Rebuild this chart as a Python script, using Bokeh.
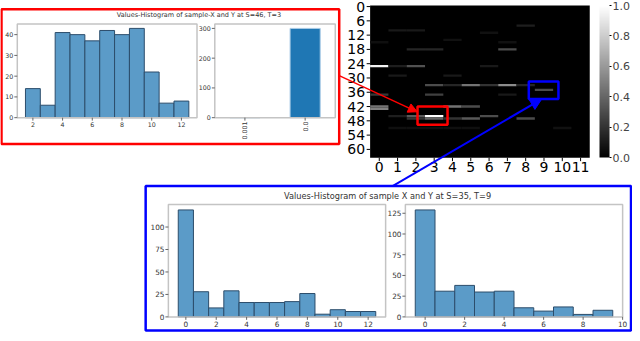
import math
from bokeh.plotting import figure
from bokeh.models import (Range1d, ColumnDataSource, Arrow, NormalHead, ColorBar,
                          LinearColorMapper, FixedTicker, PrintfTickFormatter)
from bokeh.palettes import Greys256
from bokeh.core.properties import value
from bokeh.embed import file_html
from bokeh.resources import INLINE

# ---------------- data ----------------
top_title = "Values-Histogram of sample-X and Y at S=46, T=3"
bottom_title = "Values-Histogram of sample X and Y at S=35, T=9"

h1_values = [2, 3, 4, 5, 6, 7, 8, 9, 10, 11, 12]
h1_counts = [14, 6, 41, 40, 37, 42, 40, 43, 22, 7, 8]
h1_xticks = [2, 4, 6, 8, 10, 12]
h1_yticks = [0, 10, 20, 30, 40]

h2_cats = ["0.001", "0.0"]
h2_counts = [0, 300]
h2_yticks = [0, 100, 200, 300]

h3_values = list(range(13))
h3_counts = [119, 28, 10, 29, 16, 16, 16, 17, 26, 3, 8, 6, 6]
h3_xticks = [0, 2, 4, 6, 8, 10, 12]
h3_yticks = [0, 25, 50, 75, 100]

h4_values = list(range(10))
h4_counts = [129, 31, 38, 30, 31, 11, 7, 12, 3, 8]
h4_xticks = [0, 2, 4, 6, 8, 10]
h4_yticks = [0, 25, 50, 75, 100, 125]

hm_xticks = list(range(12))
hm_yticks = list(range(0, 61, 6))
# non-zero cells of the heat map: column T, row S, value
hm_T = [0, 0, 0, 0, 0,
        1, 1, 1, 1, 1,
        2, 2, 2, 2, 2, 2,
        3, 3, 3, 3, 3, 3,
        4, 4, 4, 4, 4, 4,
        5, 5, 5, 5,
        6, 6, 6, 6,
        7, 7, 7, 7,
        8, 8, 8,
        9,
        10]
hm_S = [15, 25, 37, 42, 43,
        10, 25, 29, 46, 51,
        10, 18, 25, 46, 47, 51,
        18, 33, 37, 46, 47, 51,
        14, 29, 33, 42, 47, 51,
        33, 42, 47, 51,
        11, 25, 33, 46,
        15, 18, 33, 37,
        8, 33, 47,
        35,
        51]
hm_v = [0.06, 0.95, 0.22, 0.45, 0.5,
        0.1, 0.12, 0.1, 0.12, 0.06,
        0.1, 0.15, 0.32, 0.35, 0.2, 0.06,
        0.15, 0.3, 0.25, 1.0, 0.4, 0.06,
        0.07, 0.1, 0.15, 0.45, 0.2, 0.06,
        0.45, 0.3, 0.35, 0.06,
        0.07, 0.1, 0.2, 0.3,
        0.07, 0.3, 0.55, 0.1,
        0.12, 0.15, 0.3,
        0.3,
        0.07]
cb_ticks = [0.0, 0.2, 0.4, 0.6, 0.8, 1.0]

# ---------------- layout (reference pixel space) ----------------
W_REF, H_REF = 640, 341
FONT = value("DejaVu Sans")

p = figure(width=632, height=333, x_range=Range1d(0, W_REF), y_range=Range1d(H_REF, 0),
           output_backend="svg", toolbar_location=None, min_border=0,
           x_axis_location=None, y_axis_location=None)
p.xgrid.visible = False
p.ygrid.visible = False
p.outline_line_color = None
p.background_fill_color = "white"

xr, yr = {}, {}


def panel(name, xlim, ylim, box):
    l, t, r, b = box
    sx = (xlim[1] - xlim[0]) / (r - l)
    xr[name + "x"] = Range1d(xlim[0] - l * sx, xlim[0] + (W_REF - l) * sx)
    sy = (ylim[1] - ylim[0]) / (b - t)
    yr[name + "y"] = Range1d(ylim[0] - (H_REF - b) * sy, ylim[0] + b * sy)


boxes = {
    "h1": (17, 24, 199, 120),
    "h2": (217, 24, 339, 120),
    "hm": (374.3, 5, 596.7, 161),
    "h3": (170, 209, 390, 324),
    "h4": (410, 209, 630, 324),
}
panel("h1", (0.95, 13.05), (0, max(h1_counts) * 1.05), boxes["h1"])
panel("h2", (-0.5, 1.5), (0, max(h2_counts) * 1.05), boxes["h2"])
panel("hm", (-0.5, 11.5), (63.5, -0.5), boxes["hm"])
panel("h3", (-1.15, 13.15), (0, max(h3_counts) * 1.05), boxes["h3"])
panel("h4", (-1.0, 10.0), (0, max(h4_counts) * 1.05), boxes["h4"])
p.extra_x_ranges = xr
p.extra_y_ranges = yr

HIST_FILL = "#5b9bc8"
HIST_LINE = "#2c4d6b"
FRAME = "#c4c4c4"
TXT = "#333333"


def hist(name, vals, counts):
    src = ColumnDataSource(dict(l=[v - 0.5 for v in vals], r=[v + 0.5 for v in vals],
                                top=counts, bottom=[0] * len(vals)))
    p.quad(left="l", right="r", top="top", bottom="bottom", source=src,
           fill_color=HIST_FILL, line_color=HIST_LINE, line_width=1,
           x_range_name=name + "x", y_range_name=name + "y")


def axes(name, xticks, xlabels, yticks, ylabels, fs, rotate=False):
    l, t, r, b = boxes[name]
    p.quad(left=[l], right=[r], top=[t], bottom=[b], fill_color=None,
           line_color=FRAME, line_width=1.5)
    n = len(xticks)
    p.segment(x0=xticks, x1=xticks, y0=[b] * n, y1=[b + 3] * n,
              x_range_name=name + "x", line_color="#666666", line_width=1)
    if rotate:
        p.text(x=xticks, y=[b + 4] * n, text=xlabels, x_range_name=name + "x",
               angle=math.pi / 2, text_align="right", text_baseline="middle",
               text_font=FONT, text_font_size=fs, text_color=TXT)
    else:
        p.text(x=xticks, y=[b + 4] * n, text=xlabels, x_range_name=name + "x",
               text_align="center", text_baseline="top",
               text_font=FONT, text_font_size=fs, text_color=TXT)
    m = len(yticks)
    p.segment(x0=[l] * m, x1=[l - 3] * m, y0=yticks, y1=yticks,
              y_range_name=name + "y", line_color="#666666", line_width=1)
    p.text(x=[l - 4] * m, y=yticks, text=ylabels, y_range_name=name + "y",
           text_align="right", text_baseline="middle",
           text_font=FONT, text_font_size=fs, text_color=TXT)


# ---- top panel (red) ----
hist("h1", h1_values, h1_counts)
axes("h1", h1_xticks, [str(v) for v in h1_xticks], h1_yticks, [str(v) for v in h1_yticks], "6.3px")

h2_x = list(range(len(h2_cats)))
p.quad(left=[x - 0.25 for x in h2_x], right=[x + 0.25 for x in h2_x], top=h2_counts,
       bottom=[0] * len(h2_x), fill_color="#1f77b4", line_color="#a9cbe6", line_width=1,
       x_range_name="h2x", y_range_name="h2y")
axes("h2", h2_x, h2_cats, h2_yticks, [str(v) for v in h2_yticks], "6.3px", rotate=True)

p.text(x=[201], y=[15], text=[top_title], text_align="center", text_baseline="middle",
       text_font=FONT, text_font_size="6.5px", text_color=TXT)
p.quad(left=[1], right=[343], top=[9], bottom=[147], fill_color=None,
       line_color="red", line_width=2.5)

# ---- heat map ----
mapper = LinearColorMapper(palette=Greys256, low=0, high=1)
p.quad(left=[-0.5], right=[11.5], top=[-0.5], bottom=[63.5], fill_color="black",
       line_color=None, x_range_name="hmx", y_range_name="hmy")
hm_src = ColumnDataSource(dict(l=[t - 0.5 for t in hm_T], r=[t + 0.5 for t in hm_T],
                               top=[s - 0.5 for s in hm_S], bottom=[s + 0.5 for s in hm_S],
                               v=hm_v))
p.quad(left="l", right="r", top="top", bottom="bottom", source=hm_src,
       fill_color={"field": "v", "transform": mapper}, line_color=None,
       x_range_name="hmx", y_range_name="hmy")
l, t, r, b = boxes["hm"]
n = len(hm_xticks)
p.segment(x0=hm_xticks, x1=hm_xticks, y0=[b] * n, y1=[b + 3.5] * n,
          x_range_name="hmx", line_color="black")
p.text(x=hm_xticks, y=[b + 4] * n, text=[str(v) for v in hm_xticks], x_range_name="hmx",
       text_align="center", text_baseline="top", text_font=FONT, text_font_size="14px",
       text_color="black")
m = len(hm_yticks)
p.segment(x0=[l] * m, x1=[l - 3.5] * m, y0=hm_yticks, y1=hm_yticks,
          y_range_name="hmy", line_color="black")
p.text(x=[l - 5] * m, y=hm_yticks, text=[str(v) for v in hm_yticks], y_range_name="hmy",
       text_align="right", text_baseline="middle", text_font=FONT, text_font_size="14px",
       text_color="black")

# highlight boxes on the heat map (around T=3,S=46 and T=9,S=35)
p.quad(left=[2.09], right=[3.73], top=[42.0], bottom=[49.7], fill_color=None,
       line_color="red", line_width=2.5, x_range_name="hmx", y_range_name="hmy")
p.quad(left=[8.17], right=[9.79], top=[31.5], bottom=[38.8], fill_color=None,
       line_color="blue", line_width=2.5, x_range_name="hmx", y_range_name="hmy")

cb = ColorBar(color_mapper=mapper, location=(599, 176), width=10, height=152,
              padding=0, ticker=FixedTicker(ticks=cb_ticks),
              formatter=PrintfTickFormatter(format="%.1f"),
              major_label_text_font_size="11px", major_label_text_font="DejaVu Sans",
              major_tick_in=0, major_tick_out=2, major_tick_line_color="black",
              label_standoff=1, bar_line_color=None, border_line_color=None,
              background_fill_alpha=0)
p.add_layout(cb)

# ---- bottom panel (blue) ----
hist("h3", h3_values, h3_counts)
axes("h3", h3_xticks, [str(v) for v in h3_xticks], h3_yticks, [str(v) for v in h3_yticks], "7.3px")
hist("h4", h4_values, h4_counts)
axes("h4", h4_xticks, [str(v) for v in h4_xticks], h4_yticks, [str(v) for v in h4_yticks], "7.3px")
p.text(x=[392], y=[200], text=[bottom_title], text_align="center", text_baseline="middle",
       text_font=FONT, text_font_size="8.2px", text_color=TXT)
p.quad(left=[147], right=[638.5], top=[190], bottom=[338], fill_color=None,
       line_color="blue", line_width=2.5)

# ---- arrows ----
p.add_layout(Arrow(end=NormalHead(size=9, fill_color="red", line_color="red"),
                   x_start=343, y_start=77, x_end=422, y_end=114,
                   line_color="red", line_width=1.5))
p.add_layout(Arrow(end=NormalHead(size=11, fill_color="blue", line_color="blue"),
                   x_start=397, y_start=190, x_end=548, y_end=101,
                   line_color="blue", line_width=2))

open("out.html", "w").write(file_html(p, INLINE))
